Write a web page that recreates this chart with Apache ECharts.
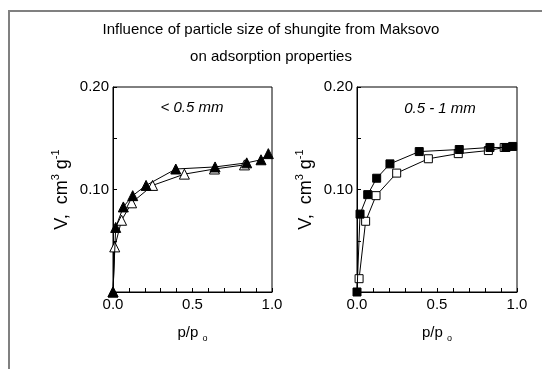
<!DOCTYPE html>
<html>
<head>
<meta charset="utf-8">
<script src="https://cdn.jsdelivr.net/npm/echarts@6/dist/echarts.min.js"></script>
<style>
  html, body { margin: 0; padding: 0; background: #fff; }
  #frame { position: absolute; left: 8px; top: 10px; width: 534px; height: 359px;
           border-left: 2px solid #808080; border-top: 2px solid #808080; }
  #main { position: absolute; left: 0; top: 0; width: 542px; height: 369px; }
</style>
</head>
<body>
<div id="frame"></div>
<div id="main"></div>
<script>
// values: [p/po, V]
const fineOpen = [[0, 0], [0.011, 0.044], [0.054, 0.070], [0.117, 0.087], [0.249, 0.104],
  [0.449, 0.115], [0.638, 0.120], [0.827, 0.124]]
const fineFilled = [[0, 0], [0.017, 0.063], [0.065, 0.083], [0.124, 0.094], [0.208, 0.104],
  [0.395, 0.120], [0.642, 0.122], [0.841, 0.126], [0.931, 0.129], [0.977, 0.135]]
const coarseOpen = [[0.013, 0.013], [0.054, 0.069], [0.119, 0.094], [0.248, 0.116],
  [0.446, 0.130], [0.633, 0.135], [0.821, 0.138], [0.92, 0.141]]
const coarseFilled = [[0, 0], [0.019, 0.076], [0.067, 0.095], [0.123, 0.111], [0.206, 0.125],
  [0.389, 0.137], [0.639, 0.139], [0.831, 0.141], [0.931, 0.141], [0.973, 0.142]]
const panelLabels = ['< 0.5 mm', '0.5 - 1 mm']

const FONT = 'Liberation Sans, Arial, sans-serif'
let myChart = echarts.init(document.getElementById('main'))

const xAxisOf = (gridIndex) => ({
  type: 'value',
  gridIndex: gridIndex,
  min: 0,
  max: 1,
  interval: 0.5,
  name: '{m|p/p }{sub|o}',
  nameLocation: 'middle',
  nameGap: 31,
  nameTextStyle: {
    rich: {
      m: { fontSize: 15, fontFamily: FONT, color: '#000', lineHeight: 20 },
      sub: { fontSize: 9, fontFamily: FONT, color: '#000', lineHeight: 12, verticalAlign: 'bottom' }
    }
  },
  axisLine: { show: true, onZero: false, lineStyle: { color: '#000', width: 1 } },
  axisTick: { show: true, inside: true, length: 4, lineStyle: { color: '#000' } },
  minorTick: { show: true, splitNumber: 5, length: 4, lineStyle: { color: '#000' } },
  axisLabel: {
    color: '#000', fontSize: 15, fontFamily: FONT, margin: 5,
    formatter: (v) => v.toFixed(1)
  },
  splitLine: { show: false }
})

const yAxisOf = (gridIndex) => ({
  type: 'value',
  gridIndex: gridIndex,
  min: 0,
  max: 0.2,
  interval: 0.1,
  name: '{m|V,  cm}{s|3}{m| g}{s|-1}',
  nameLocation: 'middle',
  nameRotate: 90,
  nameGap: 39,
  nameTextStyle: {
    rich: {
      m: { fontSize: 18, fontFamily: FONT, color: '#000', lineHeight: 24 },
      s: { fontSize: 11, fontFamily: FONT, color: '#000', lineHeight: 12, verticalAlign: 'top' }
    }
  },
  axisLine: { show: true, onZero: false, lineStyle: { color: '#000', width: 1 } },
  axisTick: { show: true, inside: true, length: 4, lineStyle: { color: '#000' } },
  minorTick: { show: true, splitNumber: 2, length: 4, lineStyle: { color: '#000' } },
  axisLabel: {
    color: '#000', fontSize: 15, fontFamily: FONT, margin: 4,
    formatter: (v) => (v === 0 ? '' : v.toFixed(2))
  },
  splitLine: { show: false }
})

const lineSeries = (data, idx, symbol, size, filled) => ({
  type: 'line',
  xAxisIndex: idx,
  yAxisIndex: idx,
  data: data,
  symbol: symbol,
  symbolSize: size,
  showAllSymbol: true,
  clip: false,
  animation: false,
  lineStyle: { color: '#000', width: 1 },
  itemStyle: { color: filled ? '#000' : '#fff', borderColor: '#000', borderWidth: 1 },
  z: filled ? 3 : 2
})

myChart.setOption({
  animation: false,
  title: {
    text: 'Influence of particle size of shungite from Maksovo\non adsorption properties',
    left: 'center',
    top: 11,
    textStyle: { fontSize: 15, fontWeight: 'normal', color: '#000', fontFamily: FONT, lineHeight: 27 }
  },
  grid: [
    { left: 113, top: 87, width: 159, height: 205, show: true, borderColor: '#000', borderWidth: 1 },
    { left: 357, top: 87, width: 160, height: 205, show: true, borderColor: '#000', borderWidth: 1 }
  ],
  xAxis: [xAxisOf(0), xAxisOf(1)],
  yAxis: [yAxisOf(0), yAxisOf(1)],
  graphic: [
    { type: 'text', x: 192, y: 108, style: { text: panelLabels[0], font: 'italic 15px ' + FONT, fill: '#000', textAlign: 'center', textVerticalAlign: 'middle' } },
    { type: 'text', x: 440, y: 109, style: { text: panelLabels[1], font: 'italic 15px ' + FONT, fill: '#000', textAlign: 'center', textVerticalAlign: 'middle' } }
  ],
  series: [
    lineSeries(fineOpen, 0, 'triangle', 10, false),
    lineSeries(fineFilled, 0, 'triangle', 10, true),
    lineSeries(coarseOpen, 1, 'rect', 8, false),
    lineSeries(coarseFilled, 1, 'rect', 8, true)
  ]
})
</script>
</body>
</html>
